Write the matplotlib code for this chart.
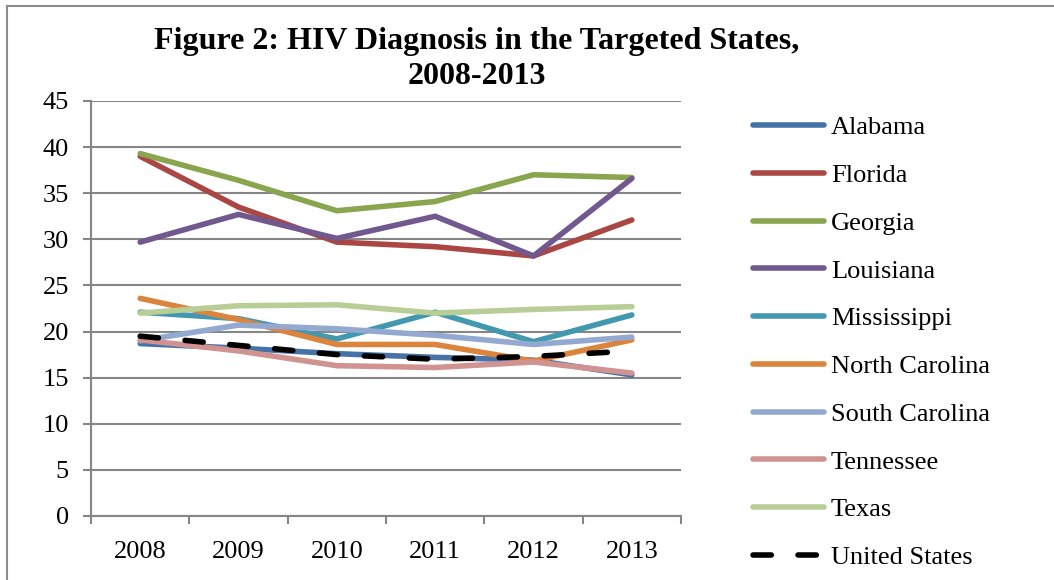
import matplotlib
matplotlib.use('Agg')
import matplotlib.pyplot as plt
from matplotlib.patches import Rectangle

years = ['2008', '2009', '2010', '2011', '2012', '2013']

alabama = [18.7, 18.2, 17.6, 17.2, 16.9, 15.3]
florida = [39.0, 33.5, 29.7, 29.2, 28.2, 32.1]
georgia = [39.3, 36.4, 33.1, 34.1, 37.0, 36.7]
louisiana = [29.7, 32.7, 30.1, 32.5, 28.2, 36.6]
mississippi = [22.1, 21.4, 19.2, 22.1, 18.9, 21.8]
north_carolina = [23.6, 21.3, 18.6, 18.6, 16.8, 19.1]
south_carolina = [19.0, 20.7, 20.3, 19.6, 18.6, 19.4]
tennessee = [19.1, 17.9, 16.3, 16.1, 16.7, 15.5]
texas = [22.0, 22.8, 22.9, 22.0, 22.4, 22.7]
united_states = [19.5, 18.5, 17.5, 17.0, 17.3, 17.9]

series = [
    ('Alabama', alabama, '#4572A7'),
    ('Florida', florida, '#AA4643'),
    ('Georgia', georgia, '#89A54E'),
    ('Louisiana', louisiana, '#71588F'),
    ('Mississippi', mississippi, '#4198AF'),
    ('North Carolina', north_carolina, '#DB843D'),
    ('South Carolina', south_carolina, '#93A9CF'),
    ('Tennessee', tennessee, '#D19392'),
    ('Texas', texas, '#B9CD96'),
]

plt.rcParams['font.family'] = ['Liberation Serif', 'DejaVu Serif']

fig = plt.figure(figsize=(10.54, 5.8), dpi=100)
ax = fig.add_axes([91 / 1054, 1 - 516 / 580, 590 / 1054, 415 / 580])

# outer chart border (only top and left visible in the crop)
fig.patches.append(Rectangle((7 / 1054, -0.1), 1.2, 1 - 6 / 580 + 0.1,
                             transform=fig.transFigure, fill=False,
                             edgecolor='#8c8c8c', linewidth=1.5))

x = range(len(years))
for name, vals, color in series:
    ax.plot(x, vals, color=color, linewidth=4, solid_capstyle='round',
            solid_joinstyle='round', label=name)
ax.plot(x, united_states, color='black', linewidth=4, dashes=(3.3, 4.8),
        dash_capstyle='round', label='United States')

ax.set_xlim(-0.5, len(years) - 0.5)
ax.set_ylim(0, 45)
ax.set_yticks(range(0, 46, 5))
ax.set_xticks(x)
ax.set_xticklabels(years)
ax.set_xticks([i - 0.5 for i in range(len(years) + 1)], minor=True)
ax.tick_params(axis='x', which='major', length=0, pad=18, labelsize=19)
ax.tick_params(axis='x', which='minor', length=6, width=1.5, color='#868686')
ax.tick_params(axis='y', length=6, width=1.5, color='#868686', pad=10, labelsize=19)

ax.grid(axis='y', color='#868686', linewidth=1.5)
ax.set_axisbelow(True)
for side in ['top', 'right']:
    ax.spines[side].set_visible(False)
for side in ['left', 'bottom']:
    ax.spines[side].set_color('#868686')
    ax.spines[side].set_linewidth(1.5)

fig.text(477 / 1054, 1 - 59 / 580, 'Figure 2: HIV Diagnosis in the Targeted States,\n2008-2013',
         ha='center', va='center', fontsize=23, fontweight='bold', linespacing=1.3)

ax.legend(loc='upper left', bbox_to_anchor=(753 / 1054, 1 - 116 / 580),
          bbox_transform=fig.transFigure, frameon=False, fontsize=19,
          borderaxespad=0, borderpad=0, handlelength=2.7, handletextpad=0.25,
          labelspacing=0.92)

fig.savefig('out.png', dpi=100)
